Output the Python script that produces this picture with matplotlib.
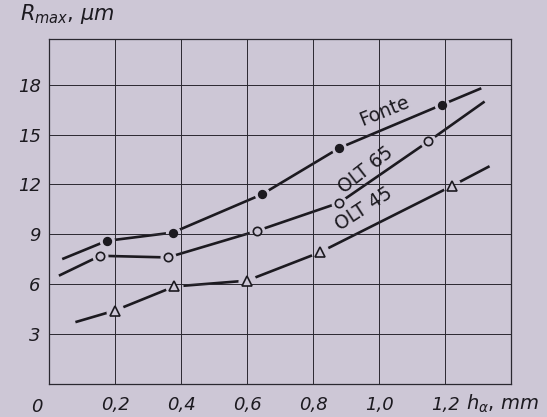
import matplotlib
matplotlib.use("Agg")
import matplotlib.pyplot as plt
import numpy as np

# Measured points (h_alpha in mm, R_max in micrometres)
fonte_x = [0.175, 0.375, 0.645, 0.88, 1.19]
fonte_y = [8.6, 9.1, 11.4, 14.2, 16.8]
olt65_x = [0.155, 0.36, 0.63, 0.88, 1.15]
olt65_y = [7.7, 7.6, 9.2, 10.9, 14.6]
olt45_x = [0.20, 0.38, 0.60, 0.82, 1.22]
olt45_y = [4.4, 5.85, 6.2, 7.9, 11.9]

# Where each drawn curve begins and ends beyond the measured points
fonte_ends = [(0.04, 7.5), (1.31, 17.8)]
olt65_ends = [(0.03, 6.5), (1.32, 17.0)]
olt45_ends = [(0.08, 3.7), (1.335, 13.1)]

x_ticks = [0.2, 0.4, 0.6, 0.8, 1.0, 1.2]
x_tick_labels = ["0,2", "0,4", "0,6", "0,8", "1,0", "1,2"]
y_ticks = [3, 6, 9, 12, 15, 18]
y_tick_labels = ["3", "6", "9", "12", "15", "18"]

BG = "#cdc7d6"
INK = "#1c1a20"

W, H = 547, 417
fig = plt.figure(figsize=(W / 100, H / 100), dpi=100, facecolor=BG)
ax = fig.add_axes([49 / W, (H - 383.5) / H, 462 / W, 345 / H])
ax.set_facecolor(BG)
ax.set_xlim(0, 1.4)
ax.set_ylim(0, 20.8)

for s in ax.spines.values():
    s.set_color("#2a2830")
    s.set_linewidth(0.9)

# grid
for xv in x_ticks:
    ax.axvline(xv, color="#2a2830", lw=0.7, zorder=2.7)
for yv in y_ticks:
    ax.axhline(yv, color="#2a2830", lw=0.7, zorder=2.7)

ax.set_xticks(x_ticks)
ax.set_xticklabels(x_tick_labels)
ax.set_yticks(y_ticks)
ax.set_yticklabels(y_tick_labels)
ax.tick_params(length=0, labelsize=13, colors=INK)
ax.tick_params(axis="x", pad=9)
ax.tick_params(axis="y", pad=6)
for lab in ax.get_xticklabels() + ax.get_yticklabels():
    lab.set_style("italic")


def curve(xs, ys, ends, marker, ms, face):
    lx = [ends[0][0]] + list(xs) + [ends[1][0]]
    ly = [ends[0][1]] + list(ys) + [ends[1][1]]
    ax.plot(lx, ly, color=INK, lw=1.9, zorder=2, solid_capstyle="butt")
    # small gap in the line around each marker
    ax.plot(xs, ys, ls="none", marker="o", ms=ms + 4.5, mfc=BG, mec=BG, zorder=2.5)
    ax.plot(xs, ys, ls="none", marker=marker, ms=ms, mfc=face, mec=INK,
            mew=1.2, zorder=3)


curve(fonte_x, fonte_y, fonte_ends, "o", 5.5, INK)
curve(olt65_x, olt65_y, olt65_ends, "o", 6, BG)
curve(olt45_x, olt45_y, olt45_ends, "^", 7.5, BG)

ax.text(1.015, 16.4, "Fonte", rotation=22, fontsize=13.5, color=INK,
        ha="center", va="center", zorder=4)
ax.text(0.96, 12.9, "OLT 65", rotation=38, fontsize=13.5, color=INK,
        ha="center", va="center", zorder=4)
ax.text(0.955, 10.55, "OLT 45", rotation=33, fontsize=13.5, color=INK,
        ha="center", va="center", zorder=4)

fig.text(37 / W, 1 - 407 / H, "0", fontsize=13, style="italic", color=INK,
         ha="center", va="center")
fig.text(466 / W, 1 - 404 / H, r"$h_{\alpha}$, $mm$", fontsize=14,
         color=INK, ha="left", va="center")
fig.text(20 / W, 1 - 14 / H, r"$R_{max}$, $\mu m$", fontsize=15,
         color=INK, ha="left", va="center")

fig.savefig("out.png", dpi=100, facecolor=BG)
